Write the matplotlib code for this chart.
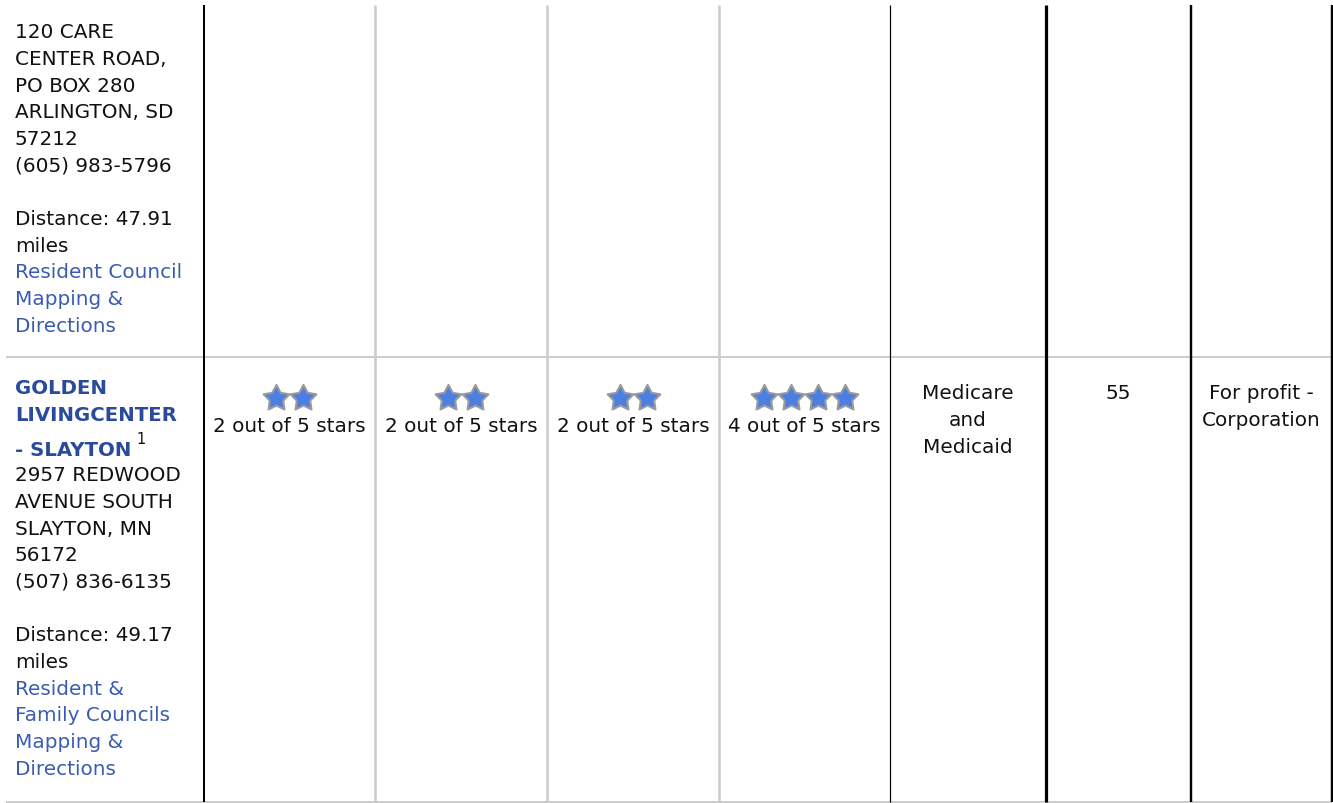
import matplotlib
matplotlib.use("Agg")
import matplotlib.pyplot as plt
from matplotlib.path import Path
from matplotlib.markers import MarkerStyle

# ---- data ----
row1_address = ["120 CARE", "CENTER ROAD,", "PO BOX 280", "ARLINGTON, SD", "57212", "(605) 983-5796"]
row1_distance = ["Distance: 47.91", "miles"]
row1_links = ["Resident Council", "Mapping &", "Directions"]

row2_name = ["GOLDEN", "LIVINGCENTER", "- SLAYTON"]
row2_footnote = "1"
row2_address = ["2957 REDWOOD", "AVENUE SOUTH", "SLAYTON, MN", "56172", "(507) 836-6135"]
row2_distance = ["Distance: 49.17", "miles"]
row2_links = ["Resident &", "Family Councils", "Mapping &", "Directions"]

star_ratings = [2, 2, 2, 4]
max_stars = 5
payment = ["Medicare", "and", "Medicaid"]
beds = 55
ownership = ["For profit -", "Corporation"]

# ---- layout ----
W, H = 1333, 804
fig = plt.figure(figsize=(W / 100, H / 100), dpi=100)
ax = fig.add_axes([0, 0, 1, 1])
ax.set_xlim(0, W)
ax.set_ylim(H, 0)
ax.axis("off")

FONT = "DejaVu Sans"
FS = 14.4
TXT = "#111111"
NAME_C = "#2a4a9c"
LINK_C = "#3a5cb0"
GRID = "#cccccc"
PITCH = 26.67
BASE_OFF = 7.3   # cap-center -> baseline

col_edges = [204, 375, 547, 719, 890, 1046, 1191, 1332]
col_widths_px = [2, 2.6, 2.6, 2.6, 1.2, 3.2, 2.4, 2.4]
col_colors = ["black", GRID, GRID, GRID, "black", "black", "black", "black"]
row_lines = [357.5, 802.5]

# horizontal grey rules
for y in row_lines:
    ax.plot([6, 1332], [y, y], color=GRID, lw=2 * 0.72, solid_capstyle="butt", zorder=1)
# vertical column rules
for x, w, c in zip(col_edges, col_widths_px, col_colors):
    ax.plot([x, x], [6, 803], color=c, lw=w * 0.72, solid_capstyle="butt", zorder=2)

def put(x, yc, s, color=TXT, weight="normal", ha="left", size=FS):
    return ax.text(x, yc + BASE_OFF, s, color=color, fontsize=size, fontweight=weight,
                   family=FONT, ha=ha, va="baseline", zorder=3)

LX = 15
# Row 1 first column
lines1 = [(s, TXT) for s in row1_address] + [("", TXT)] + \
         [(s, TXT) for s in row1_distance] + [(s, LINK_C) for s in row1_links]
for i, (s, c) in enumerate(lines1):
    if s:
        put(LX, 31 + PITCH * i, s, color=c)

# Row 2 first column
name_y = [386.5, 414, 448.5]
last = None
for s, y in zip(row2_name, name_y):
    last = put(LX, y, s, color=NAME_C, weight="bold", size=FS - 0.2)
ax.annotate(row2_footnote, xy=(1, 1), xycoords=last, xytext=(3.5, 1.0),
            textcoords="offset points", fontsize=10.5, family=FONT, color=TXT,
            ha="left", va="center")

lines2 = [(s, TXT) for s in row2_address] + [("", TXT)] + \
         [(s, TXT) for s in row2_distance] + [(s, LINK_C) for s in row2_links]
for i, (s, c) in enumerate(lines2):
    if s:
        put(LX, 474 + PITCH * i, s, color=c)

# star ratings
centers = [(col_edges[i] + col_edges[i + 1]) / 2 for i in range(len(col_edges) - 1)]
star_path = Path.unit_regular_star(5, innerCircle=0.52)
star_marker = MarkerStyle(star_path)
for k, n in enumerate(star_ratings):
    cx = centers[k]
    xs = [cx + (j - (n - 1) / 2) * 27 for j in range(n)]
    ax.plot(xs, [399] * n, ls="none", marker=star_marker, markersize=19.5,
            markerfacecolor="#4d7fe2", markeredgecolor="#9a9a9a", markeredgewidth=1.5, zorder=4)
    put(cx, 425, f"{n} out of {max_stars} stars", ha="center")

# payment, beds, ownership
for i, s in enumerate(payment):
    put(centers[4], 392 + PITCH * i, s, ha="center")
put(centers[5], 392, str(beds), ha="center")
for i, s in enumerate(ownership):
    put(centers[6], 392 + PITCH * i, s, ha="center")

fig.savefig("out.png", dpi=100, facecolor="white")
